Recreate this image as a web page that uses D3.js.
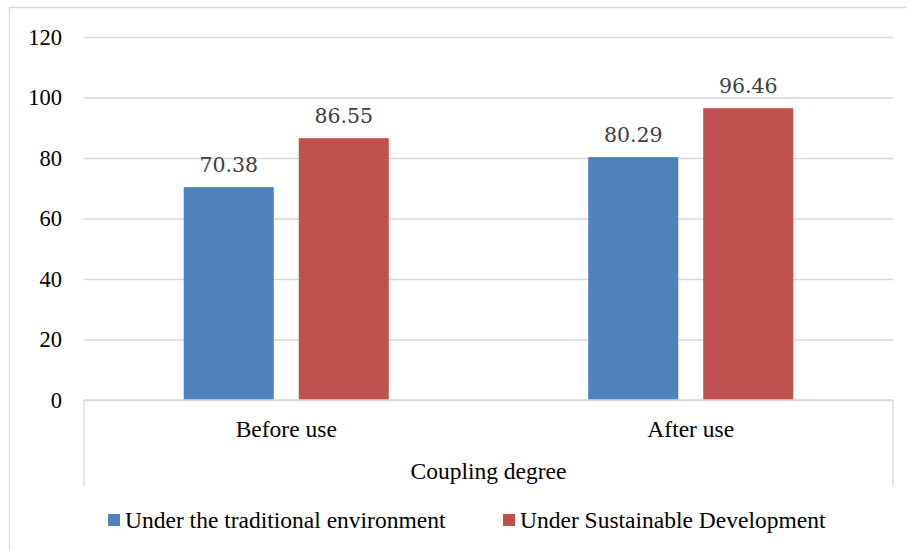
<!DOCTYPE html>
<html>
<head>
<meta charset="utf-8">
<script src="https://cdnjs.cloudflare.com/ajax/libs/d3/7.8.5/d3.min.js"></script>
<style>
  body { margin: 0; background: #fff; }
  svg { display: block; }
</style>
</head>
<body>
<svg id="chart" width="907" height="551"></svg>
<script>
const categories = ["Before use", "After use"];
const seriesNames = ["Under the traditional environment", "Under Sustainable Development"];
const traditional = [70.38, 80.29];
const sustainable = [86.55, 96.46];
const yTicks = [0, 20, 40, 60, 80, 100, 120];
const groupLabel = "Coupling degree";

const colors = ["#4F81BD", "#C0504D"];
const svg = d3.select("#chart");
const plot = {left: 84, right: 893, top: 37, bottom: 400};

// outer frame (right/bottom edges fall outside the picture)
svg.append("path")
    .attr("d", "M9.5,560V7.5H920")
    .attr("fill", "none")
    .attr("stroke", "#d9d9d9")
    .attr("stroke-width", 1.3);

const y = d3.scaleLinear()
    .domain([0, 120])
    .range([plot.bottom, plot.top]);

const x0 = d3.scaleBand()
    .domain(categories)
    .range([plot.left, plot.right]);

const x1 = d3.scaleBand()
    .domain(seriesNames)
    .range([0, x0.bandwidth()])
    .paddingInner(0.217)
    .paddingOuter(0.867);

// grid
const yAxis = d3.axisLeft(y).tickValues(yTicks);
svg.append("g")
    .attr("transform", `translate(${plot.left},0)`)
    .call(yAxis.tickSizeInner(-(plot.right - plot.left)).tickSizeOuter(0).tickPadding(22))
    .call(g => g.select(".domain").remove())
    .call(g => g.selectAll("line").attr("stroke", "#d9d9d9").attr("stroke-width", 1.3))
    .call(g => g.selectAll("text")
        .attr("font-family", "Liberation Serif")
        .attr("font-size", 22.5)
        .attr("fill", "#000"));

// bars
const rows = categories.map((c, i) => ({cat: c, vals: [traditional[i], sustainable[i]]}));
const groups = svg.selectAll("g.cat")
    .data(rows)
    .join("g")
    .attr("class", "cat")
    .attr("transform", d => `translate(${x0(d.cat)},0)`);

groups.selectAll("rect")
    .data(d => d.vals.map((v, j) => ({name: seriesNames[j], v, j})))
    .join("rect")
    .attr("x", d => x1(d.name))
    .attr("width", x1.bandwidth())
    .attr("y", d => y(d.v))
    .attr("height", d => y(0) - y(d.v))
    .attr("fill", d => colors[d.j]);

groups.selectAll("text.lbl")
    .data(d => d.vals.map((v, j) => ({name: seriesNames[j], v, j})))
    .join("text")
    .attr("class", "lbl")
    .attr("x", d => x1(d.name) + x1.bandwidth() / 2)
    .attr("y", d => y(d.v) - 15)
    .attr("text-anchor", "middle")
    .attr("font-family", "DejaVu Serif")
    .attr("font-size", 20.5)
    .attr("fill", "#404040")
    .text(d => d.v.toFixed(2));

// category axis with grouping box
const xAxisG = svg.append("g").attr("stroke", "#d9d9d9").attr("stroke-width", 1.3).attr("fill", "none");
xAxisG.append("line")
    .attr("x1", plot.left).attr("x2", plot.right)
    .attr("y1", y(0)).attr("y2", y(0));
[plot.left, plot.right].forEach(xx => {
    xAxisG.append("line")
        .attr("x1", xx).attr("x2", xx)
        .attr("y1", y(0)).attr("y2", 486);
});

svg.selectAll("text.cat")
    .data(categories)
    .join("text")
    .attr("class", "cat")
    .attr("x", d => x0(d) + x0.bandwidth() / 2)
    .attr("y", 437)
    .attr("text-anchor", "middle")
    .attr("font-family", "Liberation Serif")
    .attr("font-size", 23.5)
    .attr("fill", "#000")
    .text(d => d);

svg.append("text")
    .attr("x", (plot.left + plot.right) / 2)
    .attr("y", 479)
    .attr("text-anchor", "middle")
    .attr("font-family", "Liberation Serif")
    .attr("font-size", 23.5)
    .attr("fill", "#000")
    .text(groupLabel);

// legend
const legendX = [108, 503];
const legend = svg.selectAll("g.legend")
    .data(seriesNames)
    .join("g")
    .attr("class", "legend")
    .attr("transform", (d, i) => `translate(${legendX[i]},514)`);

legend.append("rect")
    .attr("width", 12)
    .attr("height", 12)
    .attr("fill", (d, i) => colors[i]);

legend.append("text")
    .attr("x", 17)
    .attr("y", 14)
    .attr("font-family", "Liberation Serif")
    .attr("font-size", 23.5)
    .attr("fill", "#000")
    .text(d => d);
</script>
</body>
</html>
